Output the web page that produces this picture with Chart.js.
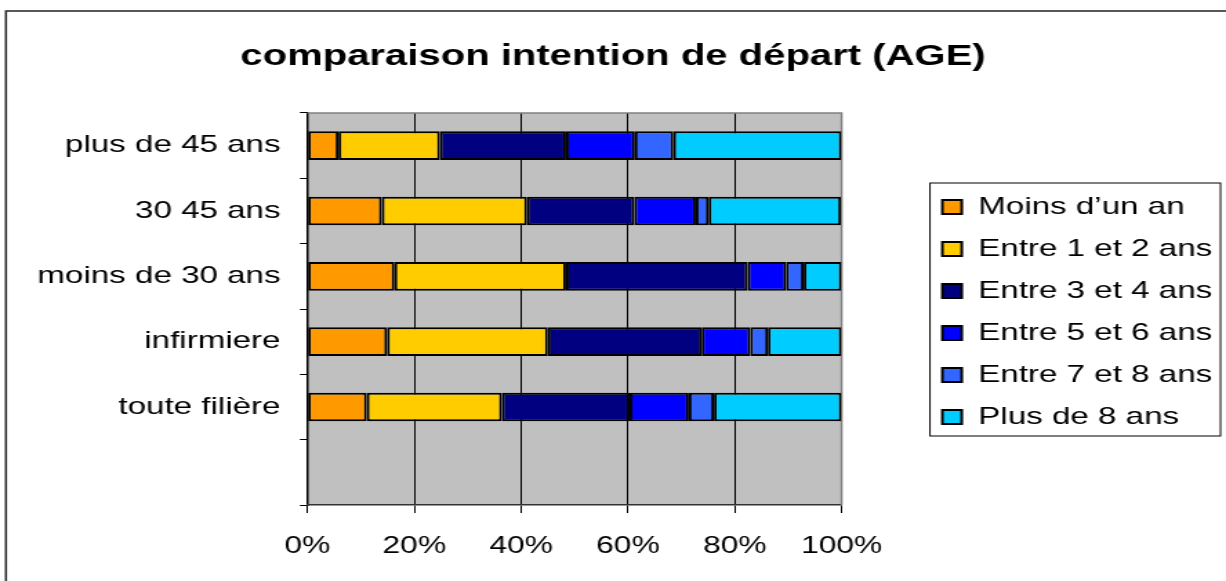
<!DOCTYPE html>
<html>
<head>
<meta charset="utf-8">
<title>comparaison intention de départ (AGE)</title>
<script src="https://cdn.jsdelivr.net/npm/chart.js@4.4.0/dist/chart.umd.min.js"></script>
<style>
  html, body { margin: 0; padding: 0; background: #fff; }
</style>
</head>
<body>
<!-- the original picture is stretched sideways, so the canvas is drawn narrow and widened by css -->
<canvas id="departChart" width="888" height="581" style="display:block;width:1226px;height:581px"></canvas>
<script>
// categories top to bottom (the last slot is empty in the original)
const categories = ['plus de 45 ans', '30 45 ans', 'moins de 30 ans', 'infirmiere', 'toute filière', ''];

// share of answers per category, in %
const moinsUnAn   = [5.8, 13.9, 16.3, 14.9, 11.1, null];
const entre1et2   = [19.0, 27.2, 32.1, 30.1, 25.3, null];
const entre3et4   = [23.6, 20.1, 34.0, 28.8, 23.9, null];
const entre5et6   = [12.9, 11.5, 7.2, 9.1, 11.1, null];
const entre7et8   = [7.2, 2.4, 3.3, 3.3, 4.7, null];
const plusDe8     = [31.5, 24.8, 7.1, 13.8, 23.9, null];

const seriesNames = ['Moins d’un an', 'Entre 1 et 2 ans', 'Entre 3 et 4 ans', 'Entre 5 et 6 ans', 'Entre 7 et 8 ans', 'Plus de 8 ans'];
const seriesData = [moinsUnAn, entre1et2, entre3et4, entre5et6, entre7et8, plusDe8];
const seriesColors = ['#FF9900', '#FFCC00', '#000080', '#0000FF', '#3366FF', '#00CCFF'];

// x axis ticks: 0% .. 100% every 20
const xMin = 0, xMax = 100, xStep = 20;

Chart.defaults.font.family = "'Liberation Sans', Arial, sans-serif";
Chart.defaults.color = '#000';

// grey plot background, outer frame and legend box
const frame = {
    id: 'frame',
    beforeDraw(chart) {
        const { ctx, chartArea: a } = chart;
        ctx.save();
        ctx.fillStyle = '#c0c0c0';
        ctx.fillRect(a.left, a.top, a.right - a.left, a.bottom - a.top);
        ctx.strokeStyle = '#222';
        ctx.lineWidth = 1.5;
        ctx.strokeRect(4.3, 11, chart.width + 20, chart.height + 20);
        ctx.restore();
    },
    beforeDatasetsDraw(chart) {
        const { ctx, chartArea: a } = chart;
        ctx.save();
        ctx.strokeStyle = '#808080';
        ctx.lineWidth = 1.5;
        ctx.beginPath();
        ctx.moveTo(a.left, a.top);
        ctx.lineTo(a.right, a.top);
        ctx.lineTo(a.right, a.bottom);
        ctx.stroke();
        ctx.restore();
    },
    afterDraw(chart) {
        const lg = chart.legend;
        const boxes = lg && lg.legendHitBoxes;
        if (!boxes || !boxes.length) return;
        const first = boxes[0], last = boxes[boxes.length - 1];
        const left = first.left - 9;
        const top = first.top - 12;
        const bottom = last.top + last.height + 7;
        const right = lg.right - 4;
        const ctx = chart.ctx;
        ctx.save();
        ctx.strokeStyle = '#000';
        ctx.lineWidth = 1;
        ctx.strokeRect(left, top, right - left, bottom - top);
        ctx.restore();
    }
};

const ctx = document.getElementById('departChart').getContext('2d');

const departChart = new Chart(ctx, {
    type: 'bar',
    data: {
        labels: categories,
        datasets: seriesNames.map((name, i) => ({
            label: name,
            data: seriesData[i],
            backgroundColor: seriesColors[i],
            borderColor: '#000',
            borderWidth: 2,
            borderSkipped: false,
            barPercentage: 0.44,
            categoryPercentage: 1
        }))
    },
    options: {
        indexAxis: 'y',
        responsive: false,
        maintainAspectRatio: false,
        devicePixelRatio: 1,
        animation: false,
        events: [],
        layout: { padding: { left: 0, right: 0, top: 0, bottom: 20.4 } },
        plugins: {
            title: {
                display: true,
                text: 'comparaison intention de départ (AGE)',
                font: { size: 29, weight: 'bold' },
                color: '#000',
                padding: { top: 39.6, bottom: 38.6 }
            },
            legend: {
                position: 'right',
                align: 'center',
                fullSize: false,
                maxWidth: 240,
                title: { display: true, text: '', font: { size: 5 }, padding: 0 },
                labels: {
                    font: { size: 24 },
                    color: '#000',
                    boxWidth: 14,
                    boxHeight: 14,
                    padding: 18
                }
            },
            tooltip: { enabled: false }
        },
        scales: {
            y: {
                stacked: true,
                grid: {
                    drawOnChartArea: false,
                    drawTicks: true,
                    tickLength: 5.5,
                    color: '#000',
                    offset: true
                },
                border: { color: '#000', width: 1.5 },
                ticks: { font: { size: 24 }, padding: 14, color: '#000' },
                afterFit(scale) { scale.width = 222.7; }
            },
            // empty axis that only leaves the gap between plot and legend
            yGap: {
                type: 'category',
                position: 'right',
                grid: { display: false },
                border: { display: false },
                ticks: { display: false },
                afterFit(scale) { scale.width = 55; }
            },
            x: {
                stacked: true,
                min: xMin,
                max: xMax,
                ticks: {
                    stepSize: xStep,
                    font: { size: 23 },
                    padding: 20,
                    color: '#000',
                    callback: (v) => v + '%'
                },
                grid: { color: '#000', lineWidth: 1, tickLength: 8, drawTicks: true },
                border: { color: '#333', width: 1.5 },
                afterFit(scale) { scale.height = 55.6; }
            }
        }
    },
    plugins: [frame]
});
</script>
</body>
</html>
